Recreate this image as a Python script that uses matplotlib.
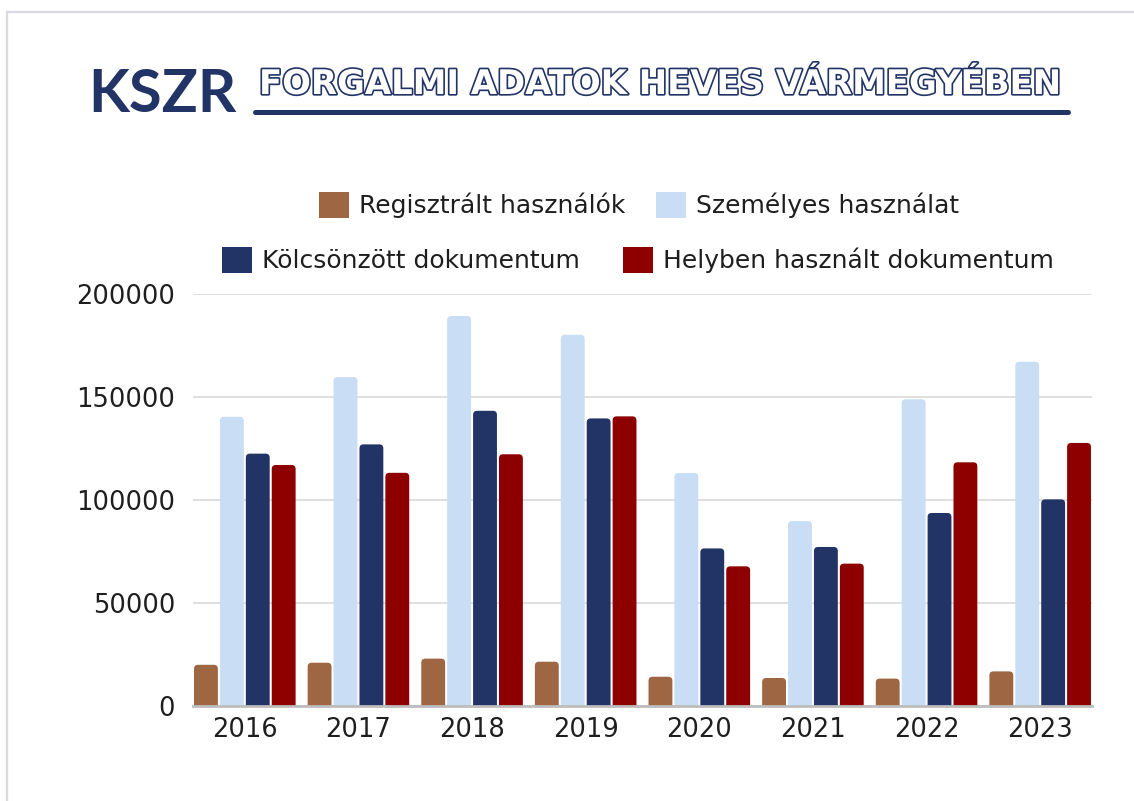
import matplotlib
matplotlib.use("Agg")
import matplotlib.pyplot as plt
import matplotlib.patheffects as pe
from matplotlib.lines import Line2D
from matplotlib.patches import FancyBboxPatch, Patch
import numpy as np

years = ["2016", "2017", "2018", "2019", "2020", "2021", "2022", "2023"]
registered = [20000, 21000, 23000, 21500, 14200, 13600, 13300, 16800]
personal = [140400, 159700, 189300, 180200, 113100, 89800, 148900, 167100]
borrowed = [122500, 127000, 143300, 139600, 76500, 77200, 93700, 100300]
onsite = [117000, 113200, 122200, 140600, 67800, 69100, 118300, 127700]

series_names = ["Regisztrált használók", "Személyes használat",
                "Kölcsönzött dokumentum", "Helyben használt dokumentum"]
series_values = [registered, personal, borrowed, onsite]
colors = ["#9e6642", "#c9ddf5", "#223366", "#8e0000"]
navy = "#223366"

W, H = 1134, 801
fig = plt.figure(figsize=(W / 100, H / 100), dpi=100)
fig.patch.set_facecolor("white")

ax = fig.add_axes([193 / W, 1 - 706 / H, (1092 - 193) / W, (706 - 294) / H])
ax.set_xlim(-0.456, 7.456)
ax.set_ylim(0, 200000)

x = np.arange(len(years))
bar_w = 0.21
step = 0.228
offsets = [-1.5 * step, -0.5 * step, 0.5 * step, 1.5 * step]

# pixel scale for the rounded tops
bbox = ax.get_window_extent()
px_x = bbox.width / (7.456 + 0.456)
px_y = bbox.height / 200000
r_px = 4
rx = r_px / px_x
ry = r_px / px_y

for vals, off, col in zip(series_values, offsets, colors):
    bars = ax.bar(x + off, vals, width=bar_w, color=col, zorder=3)
    for rect in bars:
        bx, bw, bh = rect.get_x(), rect.get_width(), rect.get_height()
        rect.remove()
        p = FancyBboxPatch((bx, -ry), bw, bh + ry,
                           boxstyle=f"round,pad=0,rounding_size={rx}",
                           mutation_aspect=ry / rx,
                           facecolor=col, edgecolor="none", zorder=3)
        ax.add_patch(p)

ax.set_xticks(x)
ax.set_xticklabels(years)
ax.set_yticks([0, 50000, 100000, 150000, 200000])
ax.set_yticklabels(["0", "50000", "100000", "150000", "200000"])
ax.tick_params(axis="both", length=0, labelsize=18.5, labelcolor="#1e1e1e")
ax.tick_params(axis="y", pad=13)
ax.tick_params(axis="x", pad=8)

ax.grid(axis="y", color="#dcdcdc", linewidth=1.3, zorder=0)
for s in ["top", "right", "left"]:
    ax.spines[s].set_visible(False)
ax.spines["bottom"].set_color("#bdbdbd")
ax.spines["bottom"].set_linewidth(2)
ax.spines["bottom"].set_zorder(4)

# legends, two centered rows
handles = [Patch(facecolor=c, edgecolor="none") for c in colors]
leg_kw = dict(loc="center", ncol=2, frameon=False, fontsize=18,
              handlelength=1.2, handleheight=1.2, handletextpad=0.4,
              labelcolor="#1e1e1e")
fig.legend(handles[:2], series_names[:2], bbox_to_anchor=(639 / W, 1 - 205 / H),
           columnspacing=1.2, **leg_kw)
fig.legend(handles[2:], series_names[2:], bbox_to_anchor=(638 / W, 1 - 260 / H),
           columnspacing=1.7, **leg_kw)

# header
fig.text(88 / W, 1 - 112 / H, "KSZR", fontsize=43, fontweight="bold",
         family=["Lato", "DejaVu Sans"], color=navy, ha="left", va="baseline")
fig.text(259 / W, 1 - 94 / H, "FORGALMI ADATOK HEVES VÁRMEGYÉBEN",
         fontsize=24.4, fontweight="bold", color="white", ha="left", va="baseline",
         path_effects=[pe.withStroke(linewidth=2.4, foreground=navy)])
fig.add_artist(Line2D([255 / W, 1068 / W], [1 - 112 / H, 1 - 112 / H],
                      color=navy, linewidth=3.6, solid_capstyle="round"))

# panel border
fig.add_artist(Line2D([7 / W, 7 / W], [0, 1 - 12 / H], color="#d9d9de", linewidth=1.6))
fig.add_artist(Line2D([7 / W, 1], [1 - 12 / H, 1 - 12 / H], color="#d9d9de", linewidth=1.6))

fig.savefig("out.png", dpi=100)
